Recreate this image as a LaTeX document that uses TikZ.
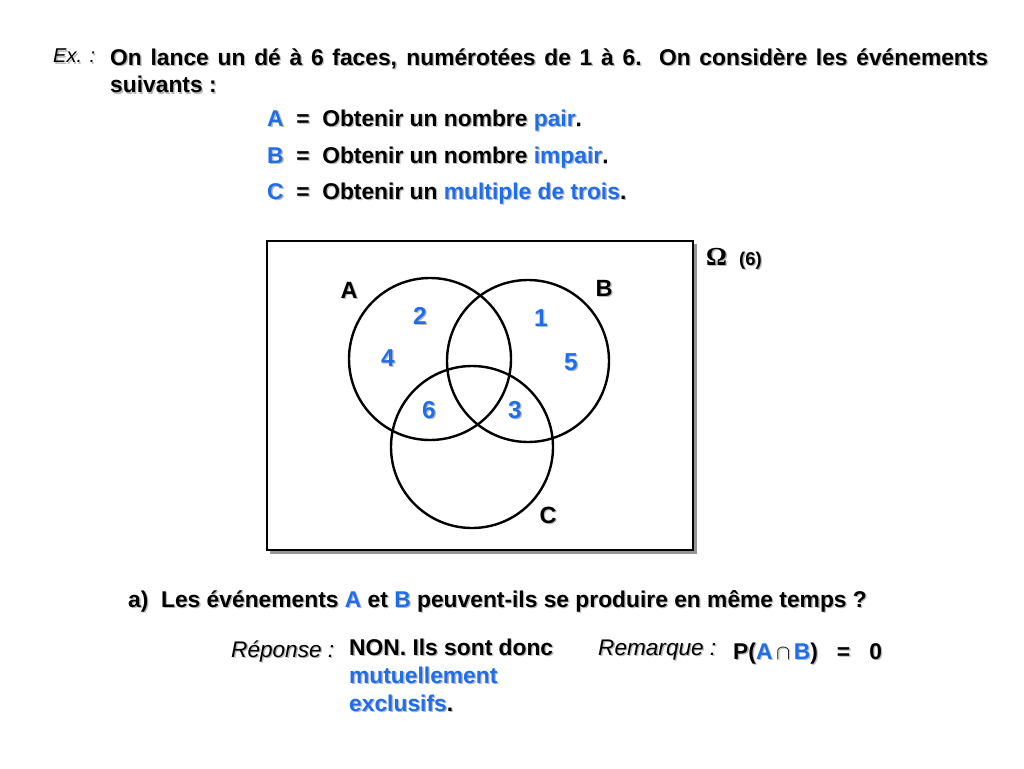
\documentclass[tikz,border=0pt]{standalone}
\usepackage{fontspec}
\setmainfont{Liberation Sans}
\newfontfamily\omegafont{Liberation Serif}
\definecolor{myblue}{RGB}{30,110,235}
\definecolor{shad}{RGB}{150,150,150}
\definecolor{tshad}{RGB}{185,185,185}
\newif\ifshd
\newcommand\bl[1]{\ifshd#1\else\textcolor{myblue}{#1}\fi}
\newcommand\tnode[4]{%
  \node[#1,text=tshad,execute at begin node=\shdtrue,xshift=1.3pt,yshift=-1.3pt] at #3 {#4};
  \node[#1] (#2) at #3 {#4};}
\begin{document}
\begin{tikzpicture}[x=1pt,y=-1pt,
  txt/.style={inner sep=0pt,anchor=base west,font=\fontsize{22.8}{28}\selectfont\bfseries},
  itx/.style={inner sep=0pt,anchor=base west,font=\fontsize{22.6}{28}\selectfont\itshape},
  num/.style={inner sep=0pt,font=\fontsize{24.5}{26}\selectfont\bfseries,text=myblue},
  setlab/.style={inner sep=0pt,font=\fontsize{23.5}{26}\selectfont\bfseries},
  circ/.style={draw=black,line width=2.4pt}]
\useasboundingbox (0,0) rectangle (1024,768);
\fill[white] (0,0) rectangle (1024,768);
% intro
\tnode{itx,font=\fontsize{20}{28}\selectfont\itshape}{ex}{(53,63)}{Ex. :}
\tnode{txt,text width=878pt,align=justify}{intro}{(110,65)}{On lance un dé à 6 faces, numérotées de 1 à 6.\ \ On considère les événements suivants :}
\tnode{txt}{defA}{(267,126)}{\bl{A}\ \ =\ \ Obtenir un nombre \bl{pair}.}
\tnode{txt}{defB}{(267,163)}{\bl{B}\ \ =\ \ Obtenir un nombre \bl{impair}.}
\tnode{txt}{defC}{(267,199)}{\bl{C}\ \ =\ \ Obtenir un \bl{multiple de trois}.}
% universe box
\fill[shad] (270,244) rectangle (697,554);
\draw[line width=2.6pt,fill=white] (267,241) rectangle (693,550);
\tnode{inner sep=0pt,anchor=base west,font=\fontsize{26}{28}\selectfont\bfseries\omegafont}{omega}{(706,265)}{Ω}
\tnode{txt,font=\fontsize{18.5}{20}\selectfont\bfseries}{card}{(739,265)}{(6)}
% circles
\node[circ,circle,minimum size=162pt,inner sep=0pt] (cA) at (430,359) {};
\node[circ,circle,minimum size=162pt,inner sep=0pt] (cB) at (528,361) {};
\node[circ,circle,minimum size=162pt,inner sep=0pt] (cC) at (472,447) {};
\tnode{setlab}{lA}{(349,290)}{A}
\tnode{setlab}{lB}{(604,288)}{B}
\tnode{setlab}{lC}{(548,515)}{C}
\tnode{num}{n2}{(420,316)}{2}
\tnode{num}{n1}{(541,318)}{1}
\tnode{num}{n4}{(388,358)}{4}
\tnode{num}{n5}{(571,362)}{5}
\tnode{num}{n6}{(429,410)}{6}
\tnode{num}{n3}{(515,410)}{3}
% question
\tnode{txt}{qa}{(128,607)}{a)\ \ Les événements \bl{A} et \bl{B} peuvent-ils se produire en même temps ?}
\tnode{itx}{rep}{(231,657)}{Réponse :}
\tnode{txt}{ans}{(349,655)}{NON. Ils sont donc}
\tnode{txt}{ans2}{(349,683)}{\bl{mutuellement}}
\tnode{txt}{ans3}{(349,711)}{\bl{exclusifs}.}
\tnode{itx}{rem}{(598,655)}{Remarque :}
\tnode{txt}{prob}{(733,659)}{P(\bl{A}\,$\cap$\,\bl{B})\ \ \ =\ \ \ 0}
\end{tikzpicture}
\end{document}
